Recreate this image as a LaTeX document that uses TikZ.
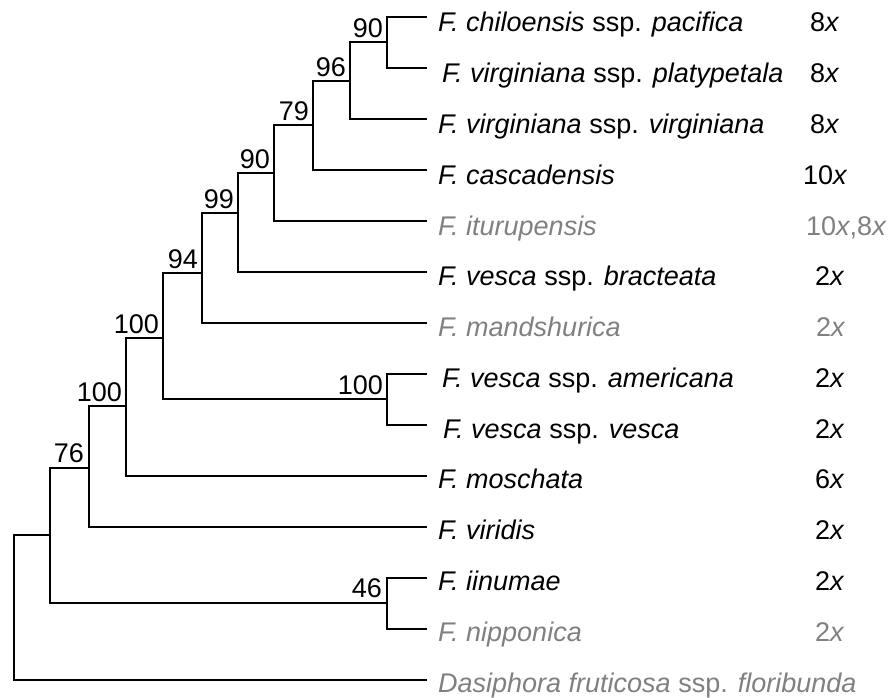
\documentclass[tikz,border=0pt]{standalone}
\usepackage{fontspec}
\setmainfont{Liberation Sans}
\definecolor{taxgray}{RGB}{128,128,128}
\begin{document}
\begin{tikzpicture}[x=1pt,y=-1pt,
  branch/.style={line width=2pt},
  taxon/.style={anchor=base west, inner sep=0pt, font=\fontsize{27}{30}\selectfont},
  ploidy/.style={anchor=base west, inner sep=0pt, font=\fontsize{27}{30}\selectfont},
  boot/.style={anchor=south east, inner sep=0pt, font=\fontsize{27}{30}\selectfont},
  gry/.style={text=taxgray}]
\useasboundingbox (0,0) rectangle (889,698);
% leaf tips
\coordinate (t0) at (427,17);
\coordinate (t1) at (427,68);
\coordinate (t2) at (427,119);
\coordinate (t3) at (427,170);
\coordinate (t4) at (427,221);
\coordinate (t5) at (427,272);
\coordinate (t6) at (427,323);
\coordinate (t7) at (427,374);
\coordinate (t8) at (427,425);
\coordinate (t9) at (427,476);
\coordinate (t10) at (427,527);
\coordinate (t11) at (427,578);
\coordinate (t12) at (427,629);
\coordinate (t13) at (427,680);
% internal nodes (x of node, y of stem)
\coordinate (nA) at (387,42);
\coordinate (nB) at (350,81);
\coordinate (nC) at (313,125);
\coordinate (nD) at (274,173);
\coordinate (nE) at (238,213);
\coordinate (nF) at (202,273);
\coordinate (nG) at (163,338);
\coordinate (nH) at (387,399);
\coordinate (nI) at (126,406);
\coordinate (nJ) at (89,468);
\coordinate (nK) at (50,535);
\coordinate (nL) at (387,603);
\coordinate (root) at (14,607);
% branches
\draw[branch] (nA) |- (t0);
\draw[branch] (nA) |- (t1);
\draw[branch] (nB) |- (nA);
\draw[branch] (nB) |- (t2);
\draw[branch] (nC) |- (nB);
\draw[branch] (nC) |- (t3);
\draw[branch] (nD) |- (nC);
\draw[branch] (nD) |- (t4);
\draw[branch] (nE) |- (nD);
\draw[branch] (nE) |- (t5);
\draw[branch] (nF) |- (nE);
\draw[branch] (nF) |- (t6);
\draw[branch] (nH) |- (t7);
\draw[branch] (nH) |- (t8);
\draw[branch] (nG) |- (nF);
\draw[branch] (nG) |- (nH);
\draw[branch] (nI) |- (nG);
\draw[branch] (nI) |- (t9);
\draw[branch] (nJ) |- (nI);
\draw[branch] (nJ) |- (t10);
\draw[branch] (nL) |- (t11);
\draw[branch] (nL) |- (t12);
\draw[branch] (nK) |- (nJ);
\draw[branch] (nK) |- (nL);
\draw[branch] (root) |- (nK);
\draw[branch] (root) |- (t13);
% bootstrap values
\node[boot] (bA) at ([xshift=-4pt,yshift=4pt]nA) {90};
\node[boot] (bB) at ([xshift=-4pt,yshift=4pt]nB) {96};
\node[boot] (bC) at ([xshift=-4pt,yshift=4pt]nC) {79};
\node[boot] (bD) at ([xshift=-4pt,yshift=4pt]nD) {90};
\node[boot] (bE) at ([xshift=-4pt,yshift=4pt]nE) {99};
\node[boot] (bF) at ([xshift=-4pt,yshift=4pt]nF) {94};
\node[boot] (bG) at ([xshift=-4pt,yshift=4pt]nG) {100};
\node[boot] (bH) at ([xshift=-4pt,yshift=4pt]nH) {100};
\node[boot] (bI) at ([xshift=-4pt,yshift=4pt]nI) {100};
\node[boot] (bJ) at ([xshift=-5pt,yshift=5pt]nJ) {76};
\node[boot] (bL) at ([xshift=-5pt,yshift=5pt]nL) {46};
% taxa
\node[taxon] (x0) at (438,32) {\textit{F. chiloensis} ssp. \textit{pacifica}};
\node[taxon] (x1) at (442,82.8) {\textit{F. virginiana} ssp. \textit{platypetala}};
\node[taxon] (x2) at (438,133.5) {\textit{F. virginiana} ssp. \textit{virginiana}};
\node[taxon] (x3) at (438,184.3) {\textit{F. cascadensis}};
\node[taxon,gry] (x4) at (438,235.1) {\textit{F. iturupensis}};
\node[taxon] (x5) at (438,285.9) {\textit{F. vesca} ssp. \textit{bracteata}};
\node[taxon,gry] (x6) at (438,336.6) {\textit{F. mandshurica}};
\node[taxon] (x7) at (442,387.4) {\textit{F. vesca} ssp. \textit{americana}};
\node[taxon] (x8) at (443,438.2) {\textit{F. vesca} ssp. \textit{vesca}};
\node[taxon] (x9) at (438,488.9) {\textit{F. moschata}};
\node[taxon] (x10) at (438,539.7) {\textit{F. viridis}};
\node[taxon] (x11) at (438,590.5) {\textit{F. iinumae}};
\node[taxon,gry] (x12) at (438,641.2) {\textit{F. nipponica}};
\node[taxon,gry] (x13) at (438,692) {\textit{Dasiphora fruticosa} ssp. \textit{floribunda}};
% ploidy
\node[ploidy] (p0) at (810,32) {8\textit{x}};
\node[ploidy] (p1) at (810,82.8) {8\textit{x}};
\node[ploidy] (p2) at (810,133.5) {8\textit{x}};
\node[ploidy] (p3) at (803,184.3) {10\textit{x}};
\node[ploidy,gry] (p4) at (806,235.1) {10\textit{x},8\textit{x}};
\node[ploidy] (p5) at (815,285.9) {2\textit{x}};
\node[ploidy,gry] (p6) at (816,336.6) {2\textit{x}};
\node[ploidy] (p7) at (815,387.4) {2\textit{x}};
\node[ploidy] (p8) at (815,438.2) {2\textit{x}};
\node[ploidy] (p9) at (815,488.9) {6\textit{x}};
\node[ploidy] (p10) at (815,539.7) {2\textit{x}};
\node[ploidy] (p11) at (815,590.5) {2\textit{x}};
\node[ploidy,gry] (p12) at (815,641.2) {2\textit{x}};
\end{tikzpicture}
\end{document}
